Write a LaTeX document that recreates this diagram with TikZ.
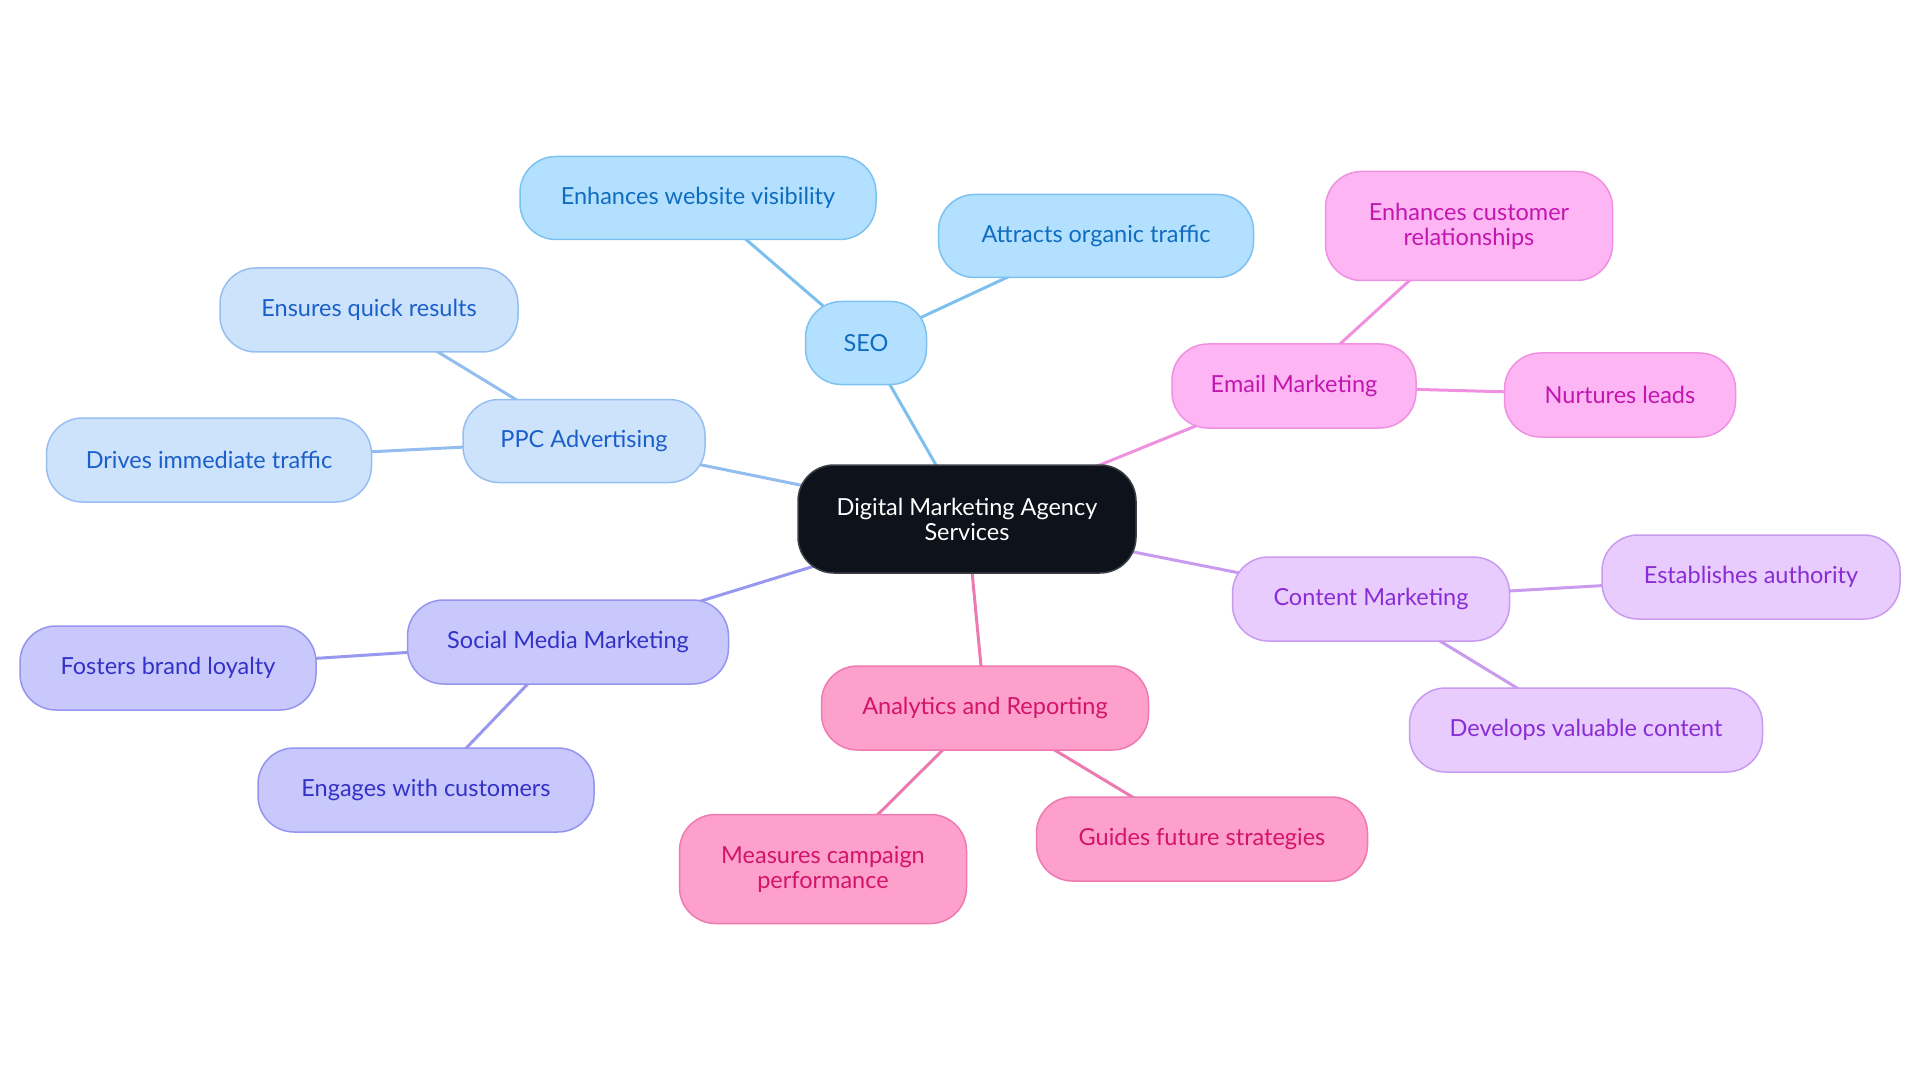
\documentclass[tikz,border=0pt]{standalone}
\usepackage{fontspec}
\setmainfont{Lato}
\usetikzlibrary{backgrounds}
\definecolor{seoF}{HTML}{B3E0FE}
\definecolor{seoD}{HTML}{7CC2F0}
\definecolor{seoT}{HTML}{0F6CBF}
\definecolor{seoL}{HTML}{7DC0EF}
\definecolor{ppcF}{HTML}{CDE3FB}
\definecolor{ppcD}{HTML}{96BEF0}
\definecolor{ppcT}{HTML}{1B5FCB}
\definecolor{ppcL}{HTML}{92BDEE}
\definecolor{smF}{HTML}{C8C8FC}
\definecolor{smD}{HTML}{9595F0}
\definecolor{smT}{HTML}{3232C6}
\definecolor{smL}{HTML}{9898EE}
\definecolor{anF}{HTML}{FDA0CB}
\definecolor{anD}{HTML}{EE7AB1}
\definecolor{anT}{HTML}{D3146B}
\definecolor{anL}{HTML}{EC7AB0}
\definecolor{cmF}{HTML}{E7CCFD}
\definecolor{cmD}{HTML}{C99BF0}
\definecolor{cmT}{HTML}{8A2CD5}
\definecolor{cmL}{HTML}{C99AEE}
\definecolor{emF}{HTML}{FDB6F3}
\definecolor{emD}{HTML}{F090E0}
\definecolor{emT}{HTML}{C216AF}
\definecolor{emL}{HTML}{F090E0}
\definecolor{ctrF}{HTML}{0D121B}
\definecolor{ctrD}{HTML}{3A3F48}
\tikzset{
  box/.style={rectangle, rounded corners=36pt, line width=1.5pt, inner sep=0pt,
    align=center, font=\fontsize{23.5}{25}\selectfont},
  hub/.style={box, fill=ctrF, draw=ctrD, text=white},
  seo/.style={box, fill=seoF, draw=seoD, text=seoT},
  ppc/.style={box, fill=ppcF, draw=ppcD, text=ppcT},
  smm/.style={box, fill=smF, draw=smD, text=smT},
  ana/.style={box, fill=anF, draw=anD, text=anT},
  cnt/.style={box, fill=cmF, draw=cmD, text=cmT},
  eml/.style={box, fill=emF, draw=emD, text=emT},
  link/.style={line width=3pt},
  sz/.style 2 args={minimum width=#1pt, minimum height=#2pt}
}
\begin{document}
\begin{tikzpicture}[x=1pt,y=-1pt]
\useasboundingbox (0,0) rectangle (1920,1083);
\node[hub, sz={338}{108}] (c) at (967,519) {Digital Marketing Agency\\Services};
% SEO
\node[seo, sz={121}{83}] (seo) at (866,343) {SEO};
\node[seo, sz={356}{83}] (seo1) at (698,198) {Enhances website visibility};
\node[seo, sz={315}{83}] (seo2) at (1096,236) {Attracts organic traffic};
% PPC
\node[ppc, sz={242}{83}] (ppc) at (584,441) {PPC Advertising};
\node[ppc, sz={298}{84}] (ppc1) at (369,310) {Ensures quick results};
\node[ppc, sz={325}{84}] (ppc2) at (209,460) {Drives immediate traffic};
% Social
\node[smm, sz={321}{84}] (sm) at (568,642) {Social Media Marketing};
\node[smm, sz={296}{84}] (sm1) at (168,668) {Fosters brand loyalty};
\node[smm, sz={336}{84}] (sm2) at (426,790) {Engages with customers};
% Analytics
\node[ana, sz={327}{84}] (an) at (985,708) {Analytics and Reporting};
\node[ana, sz={287}{109}] (an1) at (823,869) {Measures campaign\\performance};
\node[ana, sz={331}{84}] (an2) at (1202,839) {Guides future strategies};
% Content
\node[cnt, sz={277}{84}] (cm) at (1371,599) {Content Marketing};
\node[cnt, sz={298}{84}] (cm1) at (1751,577) {Establishes authority};
\node[cnt, sz={353}{84}] (cm2) at (1586,730) {Develops valuable content};
% Email
\node[eml, sz={244}{84}] (em) at (1294,386) {Email Marketing};
\node[eml, sz={231}{84}] (em1) at (1620,395) {Nurtures leads};
\node[eml, sz={287}{109}] (em2) at (1469,226) {Enhances customer\\relationships};
\begin{pgfonlayer}{background}
\draw[link, seoL] (c.center) -- (seo.center);
\draw[link, seoL] (seo.center) -- (seo1.center);
\draw[link, seoL] (seo.center) -- (seo2.center);
\draw[link, ppcL] (c.center) -- (ppc.center);
\draw[link, ppcL] (ppc.center) -- (ppc1.center);
\draw[link, ppcL] (ppc.center) -- (ppc2.center);
\draw[link, smL] (c.center) -- (sm.center);
\draw[link, smL] (sm.center) -- (sm1.center);
\draw[link, smL] (sm.center) -- (sm2.center);
\draw[link, anL] (c.center) -- (an.center);
\draw[link, anL] (an.center) -- (an1.center);
\draw[link, anL] (an.center) -- (an2.center);
\draw[link, cmL] (c.center) -- (cm.center);
\draw[link, cmL] (cm.center) -- (cm1.center);
\draw[link, cmL] (cm.center) -- (cm2.center);
\draw[link, emL] (c.center) -- (em.center);
\draw[link, emL] (em.center) -- (em1.center);
\draw[link, emL] (em.center) -- (em2.center);
\end{pgfonlayer}
\end{tikzpicture}
\end{document}
